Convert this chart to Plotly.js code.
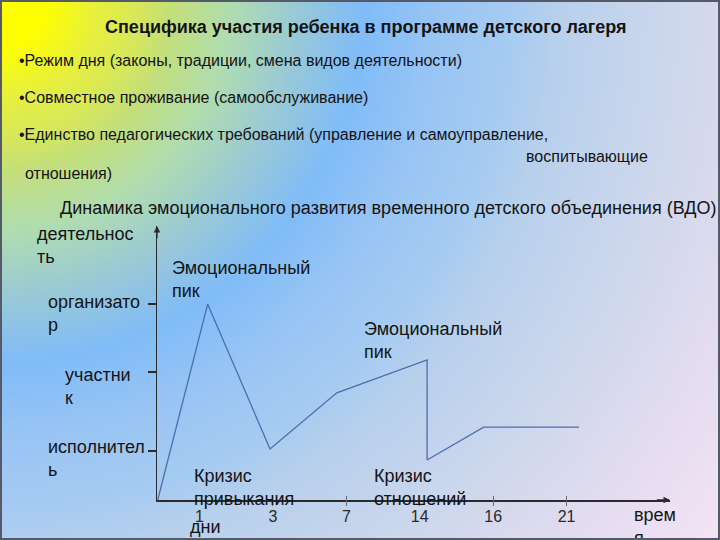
<!DOCTYPE html>
<html>
<head>
<meta charset="utf-8">
<script src="https://cdn.plot.ly/plotly-3.0.1.min.js"></script>
<style>
  html, body { margin: 0; padding: 0; width: 720px; height: 540px; overflow: hidden; }
  #bg {
    position: absolute; left: 0; top: 0; width: 720px; height: 540px;
    background: radial-gradient(circle at 0px 0px,
      #ffff00 0px, #ffff00 45px, #e6ef40 100px, #d6e75c 140px, #c4df78 170px,
      #b0dcb0 230px, #98c8d8 300px, #80bcf8 362px, #98c4f4 435px, #a6cbf1 510px,
      #b8d0ec 560px, #d0d8ec 690px, #e4dcf0 790px, #f4e4f4 900px);
  }
  #chart { position: absolute; left: 0; top: 0; width: 720px; height: 540px; }
  #frame { position: absolute; left: 0; top: 0; width: 720px; height: 540px; box-sizing: border-box;
    border: 2px solid #545a68; pointer-events: none; }
</style>
</head>
<body>
<div id="bg"></div>
<div id="chart"></div>
<div id="frame"></div>
<script>
// ---- data ----
var dayLabels = ['1', '3', '7', '14', '16', '21'];
var dayPositions = [0, 1, 2, 3, 4, 5];
var dayTickMarks = [1, 2, 3, 4, 5];
var levelNames = ['исполнитель', 'участник', 'организатор'];
var levelValues = [17.9, 46.7, 71.5];
var lineX = [-0.57, 0.11, 0.96, 1.87, 3.10, 3.10, 3.87, 5.17];
var lineY = [0, 71.5, 18.6, 39.1, 51.1, 14.6, 26.6, 26.6];

var titleText = 'Специфика участия ребенка в программе детского лагеря';
var bullets = [
  '•Режим дня (законы, традиции, смена видов деятельности)',
  '•Совместное проживание (самообслуживание)',
  '•Единство педагогических требований (управление и самоуправление,'
];
var bulletCont1 = 'воспитывающие';
var bulletCont2 = 'отношения)';
var chartSubtitle = 'Динамика эмоционального развития временного детского объединения (ВДО)';

// ---- layout helpers ----
var W = 720, H = 540;
var M = {l: 157, r: 50, t: 226, b: 40};
var pw = W - M.l - M.r, ph = H - M.t - M.b;
function px(x) { return (x - M.l) / pw; }
function py(y) { return (H - M.b - y) / ph; }

var XR = [-0.58, 6.41];
var YR = [0, 100];

var sans = '"Liberation Sans", Arial, sans-serif';
var txtColor = '#141414';

function label(text, x, y, opts) {
  opts = opts || {};
  return {
    text: text, xref: 'paper', yref: 'paper', x: px(x), y: py(y),
    xanchor: opts.xanchor || 'left', yanchor: 'middle', align: opts.align || 'left',
    showarrow: false,
    font: {family: sans, size: opts.size || 18, color: txtColor}
  };
}

var annotations = [
  label('<b>' + titleText + '</b>', 366, 27, {xanchor: 'center', size: 18}),
  label(bullets[0], 17, 60, {size: 16}),
  label(bullets[1], 17, 98, {size: 16}),
  label(bullets[2], 17, 134, {size: 16}),
  label(bulletCont1, 524, 156, {size: 16}),
  label(bulletCont2, 23, 173, {size: 16}),
  label(chartSubtitle, 58, 208, {size: 18}),
  label('деятельнос<br>ть', 35, 245),
  label('Эмоциональный<br>пик', 170, 279),
  label('организато<br>р', 46, 313),
  label('участни<br>к', 63, 386),
  label('исполнител<br>ь', 46, 458),
  label('Кризис<br>привыкания', 192, 487),
  label('Эмоциональный<br>пик', 362, 340),
  label('Кризис<br>отношений', 372, 487),
  label('дни', 188, 527),
  label('врем<br>я', 632, 526),
  // axis arrowheads
  {x: XR[1], y: 0, ax: XR[1] - 0.2, ay: 0, xref: 'x', yref: 'y', axref: 'x', ayref: 'y',
   text: '', showarrow: true, arrowhead: 2, arrowsize: 1, arrowwidth: 1.3, arrowcolor: '#2a2a2a'},
  {x: XR[0], y: YR[1], ax: XR[0], ay: YR[1] - 5, xref: 'x', yref: 'y', axref: 'x', ayref: 'y',
   text: '', showarrow: true, arrowhead: 2, arrowsize: 1, arrowwidth: 1.3, arrowcolor: '#2a2a2a'}
];

var trace = {
  x: lineX, y: lineY, type: 'scatter', mode: 'lines',
  line: {color: '#4a6fae', width: 1.3},
  hoverinfo: 'skip', cliponaxis: false
};

var layout = {
  width: W, height: H,
  margin: M,
  paper_bgcolor: 'rgba(0,0,0,0)',
  plot_bgcolor: 'rgba(0,0,0,0)',
  showlegend: false,
  xaxis: {
    range: XR, showgrid: false, zeroline: false,
    showline: true, linecolor: '#2a2a2a', linewidth: 1.5,
    tickmode: 'array', tickvals: dayPositions, ticktext: dayLabels,
    ticks: '', ticklabelstandoff: 1,
    tickfont: {family: sans, size: 16, color: '#2a2a2a'}
  },
  xaxis2: {
    range: XR, overlaying: 'x', anchor: 'free', position: 5 / ph, side: 'bottom',
    showgrid: false, zeroline: false, showline: false, showticklabels: false,
    tickmode: 'array', tickvals: dayTickMarks, ticks: 'outside', ticklen: 10,
    tickcolor: '#6a6a6a', tickwidth: 1
  },
  yaxis: {
    range: YR, showgrid: false, zeroline: false,
    showline: true, linecolor: '#2a2a2a', linewidth: 1.5,
    tickmode: 'array', tickvals: levelValues, ticktext: levelNames,
    showticklabels: false, ticks: 'outside', ticklen: 8, tickwidth: 1.2, tickcolor: '#2a2a2a'
  },
  annotations: annotations
};

Plotly.newPlot('chart', [trace, {x: [], y: [], xaxis: 'x2', type: 'scatter', hoverinfo: 'skip'}], layout,
  {displayModeBar: false, staticPlot: true});
</script>
</body>
</html>
